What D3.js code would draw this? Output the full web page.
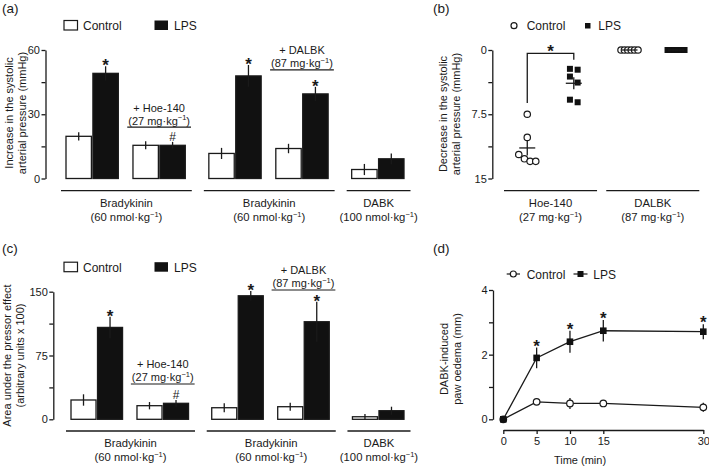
<!DOCTYPE html>
<html><head><meta charset="utf-8">
<script src="https://cdn.jsdelivr.net/npm/d3@7"></script>
<style>body{margin:0;background:#fff}svg{display:block}</style>
</head><body>
<svg width="709" height="469"></svg>
<script>
// ---------- DATA ----------
// shared bar-panel groups (panels a and c)
const groupBlock = [0, 0, 1, 1, 2];
const blockNames = ["Bradykinin", "Bradykinin", "DABK"];
const blockDoses = ["60 nmol·kg", "60 nmol·kg", "100 nmol·kg"];
const annotGroups = [1, 3];
const annotNames = ["+ Hoe-140", "+ DALBK"];
const annotDoses = ["27 mg·kg", "87 mg·kg"];
const starGroups = [0, 2, 3];
const hashGroups = [1];

// panel (a): increase in systolic pressure (mmHg)
const aControl = [19.7, 15.5, 11.7, 14.0, 4.2];
const aControlSem = [1.9, 1.9, 2.6, 2.2, 2.6];
const aLps = [49.1, 15.5, 47.9, 39.5, 9.2];
const aLpsSem = [3.3, 1.6, 5.1, 3.3, 2.5];
const aTicks = [0, 15, 30, 45, 60];
const aTickLabels = [0, 30, 60];
const aAnnotY = [24.0, 50.7];

// panel (c): area under the pressor effect
const cControl = [22.7, 16.0, 13.6, 14.8, 3.0];
const cControlSem = [6.7, 4.3, 5.2, 4.7, 3.2];
const cLps = [108, 18.8, 145.2, 114.7, 10.1];
const cLpsSem = [12.6, 3.9, 5.6, 23.5, 4.7];
const cTicks = [0, 37.5, 75, 112.5, 150];
const cTickLabels = [0, 75, 150];
const cAnnotY = [41.5, 152];

// panel (b): decrease in systolic pressure (individual values)
const bGroups = ["Hoe-140", "DALBK"];
const bDoses = ["27 mg·kg", "87 mg·kg"];
const bHoeControl = [7.5, 10.2, 12.2, 12.7, 13.0, 13.0];
const bHoeLps = [2.2, 2.3, 3.1, 3.8, 5.8, 6.1];
const bDalbkControl = [0, 0, 0, 0, 0, 0];
const bDalbkLps = [0, 0, 0, 0, 0, 0];
const bTicks = [0, 3.75, 7.5, 11.25, 15];
const bTickLabels = [0, 7.5, 15];
const bBracket = [6.2, 0.4, 1.15]; // left end, top, right end (mmHg)

// panel (d): paw oedema time course
const dTimes = [0, 5, 10, 15, 30];
const dControl = [0, 0.54, 0.49, 0.49, 0.37];
const dControlSem = [0, 0.06, 0.17, 0.1, 0.14];
const dLps = [0, 1.9, 2.4, 2.74, 2.71];
const dLpsSem = [0, 0.32, 0.34, 0.33, 0.23];
const dStars = [1, 2, 3, 4];
const dYTicks = [0, 1, 2, 3, 4];
const dYTickLabels = [0, 2, 4];

// ---------- DRAWING ----------
const FONT = "'Liberation Sans', Arial, Helvetica, sans-serif";
const INK = "#1a1a1a";
const svg = d3.select("svg").style("font-family", FONT).attr("fill", INK);

function styleAxis(g) {
  g.attr("font-family", null).attr("font-size", null);
  g.selectAll("path.domain").attr("stroke", INK).attr("stroke-width", 1.3);
  g.selectAll(".tick line").attr("stroke", INK).attr("stroke-width", 1.3);
  g.selectAll(".tick text").attr("fill", INK).style("font-size", "11px");
}
function doseText(x, y, str) {
  const t = svg.append("text").attr("x", x).attr("y", y).attr("text-anchor", "middle").style("font-size", "11px");
  t.append("tspan").text("(" + str);
  t.append("tspan").attr("dy", -4.5).style("font-size", "7.5px").text("−1");
  t.append("tspan").attr("dy", 4.5).text(")");
  return t;
}
function yLabel(lines, xs, cy) {
  lines.forEach((l, i) => svg.append("text")
    .attr("transform", `translate(${xs[i]},${cy}) rotate(-90)`)
    .attr("text-anchor", "middle").attr("dy", "0.35em").style("font-size", "11px").text(l));
}
function panelLabel(t, x, y) {
  svg.append("text").attr("x", x).attr("y", y).style("font-size", "13.5px").text(t);
}
function star(x, y) {
  svg.append("text").attr("x", x).attr("y", y).attr("text-anchor", "middle")
    .style("font-size", "17px").style("font-weight", "bold").text("*");
}

function barPanel(cfg) {
  const y = d3.scaleLinear().domain([0, cfg.max]).range([cfg.y0, cfg.y1]);
  const u = []; let acc = 0;
  groupBlock.forEach((b, i) => { if (i > 0) acc += (b === groupBlock[i - 1] ? 0.28 : 0.45); u.push(acc); acc += 1; });
  const x = d3.scaleLinear().domain([0, acc]).range([cfg.gx0, cfg.gx1]);
  const gw = x(1) - x(0), gap = 1.5, bw = (gw - gap) / 2;
  const rows = cfg.control.map((c, i) => ({ i, c, cs: cfg.controlSem[i], l: cfg.lps[i], ls: cfg.lpsSem[i], x0: x(u[i]) }));
  const g = svg.append("g");
  g.selectAll("rect.ctl").data(rows).join("rect").attr("class", "ctl")
    .attr("x", d => d.x0).attr("y", d => y(d.c)).attr("width", bw).attr("height", d => y(0) - y(d.c))
    .attr("fill", "#fff").attr("stroke", INK).attr("stroke-width", 1.3);
  g.selectAll("rect.lps").data(rows).join("rect").attr("class", "lps")
    .attr("x", d => d.x0 + bw + gap).attr("y", d => y(d.l)).attr("width", bw).attr("height", d => y(0) - y(d.l))
    .attr("fill", "#111").attr("stroke", INK).attr("stroke-width", 1.3);
  g.selectAll("line.ec").data(rows).join("line").attr("class", "ec")
    .attr("x1", d => d.x0 + bw / 2).attr("x2", d => d.x0 + bw / 2)
    .attr("y1", d => y(d.c - d.cs)).attr("y2", d => y(d.c + d.cs)).attr("stroke", INK).attr("stroke-width", 1.3);
  g.selectAll("line.el").data(rows).join("line").attr("class", "el")
    .attr("x1", d => d.x0 + bw * 1.5 + gap).attr("x2", d => d.x0 + bw * 1.5 + gap)
    .attr("y1", d => y(d.l - d.ls)).attr("y2", d => y(d.l + d.ls)).attr("stroke", INK).attr("stroke-width", 1.3);
  starGroups.forEach(i => star(rows[i].x0 + bw * 1.5 + gap, y(rows[i].l + rows[i].ls) + 5));
  hashGroups.forEach(i => svg.append("text").attr("x", rows[i].x0 + bw * 1.5 + gap).attr("y", y(rows[i].l + rows[i].ls) - 1)
    .attr("text-anchor", "middle").style("font-size", "12px").text("#"));
  // annotations
  annotGroups.forEach((gi, k) => {
    const cx = rows[gi].x0 + gw / 2, uy = y(cfg.annotY[k]);
    svg.append("text").attr("x", cx).attr("y", uy - 15.5).attr("text-anchor", "middle").style("font-size", "11px").text(annotNames[k]);
    const t = doseText(cx, uy - 2.6, annotDoses[k]);
    const w = t.node().getComputedTextLength();
    svg.append("line").attr("x1", cx - w / 2 - 1).attr("x2", cx + w / 2 + 1).attr("y1", uy).attr("y2", uy)
      .attr("stroke", INK).attr("stroke-width", 1.2);
  });
  // axis
  const ax = svg.append("g").attr("transform", `translate(${cfg.axisX},0)`)
    .call(d3.axisLeft(y).tickValues(cfg.ticks).tickSize(4).tickSizeOuter(0).tickPadding(1.5)
      .tickFormat(d => cfg.tickLabels.includes(d) ? d3.format("")(d) : ""));
  styleAxis(ax);
  // block lines + labels
  blockNames.forEach((name, b) => {
    const idx = groupBlock.map((v, i) => v === b ? i : -1).filter(i => i >= 0);
    const xa = x(u[idx[0]]) - 5, xb = x(u[idx[idx.length - 1]] + 1) + 6.5;
    svg.append("line").attr("x1", xa).attr("x2", xb).attr("y1", cfg.lineY).attr("y2", cfg.lineY)
      .attr("stroke", INK).attr("stroke-width", 1.3);
    svg.append("text").attr("x", (xa + xb) / 2).attr("y", cfg.lineY + 15.8).attr("text-anchor", "middle")
      .style("font-size", "11.3px").text(name);
    doseText((xa + xb) / 2, cfg.lineY + 30.3, blockDoses[b]).style("font-size", "11.3px");
  });
  // legend
  svg.append("rect").attr("x", 64).attr("y", cfg.legY).attr("width", 13.5).attr("height", 9.5)
    .attr("fill", "#fff").attr("stroke", INK).attr("stroke-width", 1.2);
  svg.append("text").attr("x", 83).attr("y", cfg.legY + 9.5).style("font-size", "12px").text("Control");
  svg.append("rect").attr("x", 154.5).attr("y", cfg.legY).attr("width", 13.5).attr("height", 9.5).attr("fill", "#111");
  svg.append("text").attr("x", 174).attr("y", cfg.legY + 9.5).style("font-size", "12px").text("LPS");
  yLabel(cfg.ylabel, cfg.ylabX, cfg.ylabY);
}

// panel (a)
panelLabel("(a)", 2, 12.5);
barPanel({ max: 60, y0: 178.5, y1: 50, axisX: 45.5, gx0: 66, gx1: 404,
  control: aControl, controlSem: aControlSem, lps: aLps, lpsSem: aLpsSem,
  ticks: aTicks, tickLabels: aTickLabels, annotY: aAnnotY,
  lineY: 190.7, legY: 20.5,
  ylabel: ["Increase in the systolic", "arterial pressure (mmHg)"], ylabX: [9.5, 22.5], ylabY: 113 });

// panel (c)
panelLabel("(c)", 2, 252.5);
barPanel({ max: 150, y0: 419.3, y1: 291.7, axisX: 53.3, gx0: 71, gx1: 404,
  control: cControl, controlSem: cControlSem, lps: cLps, lpsSem: cLpsSem,
  ticks: cTicks, tickLabels: cTickLabels, annotY: cAnnotY,
  lineY: 431, legY: 262.2,
  ylabel: ["Area under the pressor effect", "(arbitrary units x 100)"], ylabX: [7, 20], ylabY: 355.5 });

// panel (b)
(function () {
  panelLabel("(b)", 433, 12.5);
  const y = d3.scaleLinear().domain([0, 15]).range([50, 178.5]);
  const band = d3.scaleBand().domain(bGroups).range([504, 699.3]).paddingInner(0.09);
  const sub = d3.scalePoint().domain(["Control", "LPS"]).range([0, band.bandwidth()]).padding(0.5);
  const sets = [
    { g: "Hoe-140", s: "Control", v: bHoeControl },
    { g: "Hoe-140", s: "LPS", v: bHoeLps },
    { g: "DALBK", s: "Control", v: bDalbkControl },
    { g: "DALBK", s: "LPS", v: bDalbkLps }];
  function swarm(values, cx) {
    const pts = values.map(v => ({ v, py: y(v) })).sort((a, b) => a.py - b.py);
    const bins = [];
    pts.forEach(p => { const last = bins[bins.length - 1]; if (last && p.py - last[0].py < 7.5) last.push(p); else bins.push([p]); });
    bins.forEach(b => { const n = b.length; const s = n > 1 ? Math.min(7.7, 17 / (n - 1)) : 0; b.forEach((p, i) => p.px = cx + (i - (n - 1) / 2) * s); });
    return pts;
  }
  sets.forEach(set => {
    const cx = band(set.g) + sub(set.s);
    const pts = swarm(set.v, cx);
    if (set.s === "Control") {
      svg.append("g").selectAll("circle").data(pts).join("circle")
        .attr("cx", d => d.px).attr("cy", d => d.py).attr("r", 3.2)
        .attr("fill", "#fff").attr("stroke", INK).attr("stroke-width", 1.2);
    } else {
      svg.append("g").selectAll("rect").data(pts).join("rect")
        .attr("x", d => d.px - 3).attr("y", d => d.py - 3).attr("width", 6).attr("height", 6).attr("fill", "#111");
    }
    const m = d3.mean(set.v), sem = d3.deviation(set.v) / Math.sqrt(set.v.length);
    svg.append("line").attr("x1", cx - 8).attr("x2", cx + 8).attr("y1", y(m)).attr("y2", y(m)).attr("stroke", INK).attr("stroke-width", 1.3);
    if (sem > 0) svg.append("line").attr("x1", cx).attr("x2", cx).attr("y1", y(m - sem)).attr("y2", y(m + sem)).attr("stroke", INK).attr("stroke-width", 1.3);
  });
  // significance bracket
  const xl = band("Hoe-140") + sub("Control"), xr = band("Hoe-140") + sub("LPS");
  svg.append("path").attr("d", `M${xl},${y(bBracket[0])}V${y(bBracket[1])}H${xr}V${y(bBracket[2])}`)
    .attr("fill", "none").attr("stroke", INK).attr("stroke-width", 1.3);
  star((xl + xr) / 2, y(bBracket[1]) + 3.5);
  const ax = svg.append("g").attr("transform", "translate(492.3,0)")
    .call(d3.axisLeft(y).tickValues(bTicks).tickSize(4).tickSizeOuter(0).tickPadding(1.5)
      .tickFormat(d => bTickLabels.includes(d) ? d3.format("")(d) : ""));
  styleAxis(ax);
  bGroups.forEach((gname, i) => {
    const xa = band(gname), xb = band(gname) + band.bandwidth();
    svg.append("line").attr("x1", xa).attr("x2", xb).attr("y1", 190.7).attr("y2", 190.7).attr("stroke", INK).attr("stroke-width", 1.3);
    svg.append("text").attr("x", (xa + xb) / 2).attr("y", 206.5).attr("text-anchor", "middle").style("font-size", "11.3px").text(gname);
    doseText((xa + xb) / 2, 221, bDoses[i]).style("font-size", "11.3px");
  });
  // legend
  svg.append("circle").attr("cx", 514).attr("cy", 25.7).attr("r", 3).attr("fill", "#fff").attr("stroke", INK).attr("stroke-width", 1.2);
  svg.append("text").attr("x", 526.7).attr("y", 30).style("font-size", "12px").text("Control");
  svg.append("rect").attr("x", 585).attr("y", 23).attr("width", 5.5).attr("height", 5.5).attr("fill", "#111");
  svg.append("text").attr("x", 598.3).attr("y", 30).style("font-size", "12px").text("LPS");
  yLabel(["Decrease in the systolic", "arterial pressure (mmHg)"], [443.5, 456.5], 114);
})();

// panel (d)
(function () {
  panelLabel("(d)", 433, 252.5);
  const y = d3.scaleLinear().domain([0, 4]).range([419.3, 290]);
  const x = d3.scaleLinear().domain([0, 30]).range([503.3, 703.3]);
  const ctl = dTimes.map((t, i) => ({ t, v: dControl[i], s: dControlSem[i] }));
  const lps = dTimes.map((t, i) => ({ t, v: dLps[i], s: dLpsSem[i] }));
  const line = d3.line().x(d => x(d.t)).y(d => y(d.v));
  svg.append("path").datum(ctl).attr("d", line).attr("fill", "none").attr("stroke", INK).attr("stroke-width", 1.3);
  svg.append("g").selectAll("line").data(ctl.filter(d => d.s > 0)).join("line")
    .attr("x1", d => x(d.t)).attr("x2", d => x(d.t)).attr("y1", d => y(d.v - d.s)).attr("y2", d => y(d.v + d.s))
    .attr("stroke", INK).attr("stroke-width", 1.3);
  svg.append("g").selectAll("circle").data(ctl).join("circle")
    .attr("cx", d => x(d.t)).attr("cy", d => y(d.v)).attr("r", 3.3)
    .attr("fill", "#fff").attr("stroke", INK).attr("stroke-width", 1.2);
  svg.append("path").datum(lps).attr("d", line).attr("fill", "none").attr("stroke", INK).attr("stroke-width", 1.3);
  svg.append("g").selectAll("line").data(lps.filter(d => d.s > 0)).join("line")
    .attr("x1", d => x(d.t)).attr("x2", d => x(d.t)).attr("y1", d => y(d.v - d.s)).attr("y2", d => y(d.v + d.s))
    .attr("stroke", INK).attr("stroke-width", 1.3);
  svg.append("g").selectAll("rect").data(lps).join("rect")
    .attr("x", d => x(d.t) - 3.3).attr("y", d => y(d.v) - 3.3).attr("width", 6.6).attr("height", 6.6).attr("fill", "#111");
  dStars.forEach(i => star(x(lps[i].t), y(lps[i].v + lps[i].s) + 4));
  const ay = svg.append("g").attr("transform", "translate(493,0)")
    .call(d3.axisLeft(y).tickValues(dYTicks).tickSize(4).tickSizeOuter(0).tickPadding(1.5)
      .tickFormat(d => dYTickLabels.includes(d) ? d : ""));
  styleAxis(ay);
  const axx = svg.append("g").attr("transform", "translate(0,430)")
    .call(d3.axisBottom(x).tickValues(dTimes).tickSize(4).tickSizeOuter(0).tickPadding(3));
  styleAxis(axx);
  svg.append("text").attr("x", 580).attr("y", 464).attr("text-anchor", "middle").style("font-size", "11px").text("Time (min)");
  // legend
  svg.append("line").attr("x1", 506.7).attr("x2", 520).attr("y1", 274).attr("y2", 274).attr("stroke", INK).attr("stroke-width", 1.2);
  svg.append("circle").attr("cx", 513.3).attr("cy", 274).attr("r", 3).attr("fill", "#fff").attr("stroke", INK).attr("stroke-width", 1.2);
  svg.append("text").attr("x", 526.7).attr("y", 278.5).style("font-size", "12px").text("Control");
  svg.append("line").attr("x1", 573.5).attr("x2", 587.5).attr("y1", 274).attr("y2", 274).attr("stroke", INK).attr("stroke-width", 1.2);
  svg.append("rect").attr("x", 577.5).attr("y", 271).attr("width", 6).attr("height", 6).attr("fill", "#111");
  svg.append("text").attr("x", 593.3).attr("y", 278.5).style("font-size", "12px").text("LPS");
  yLabel(["DABK-induced", "paw oedema (mm)"], [444.3, 457], 359);
})();
</script>
</body></html>
